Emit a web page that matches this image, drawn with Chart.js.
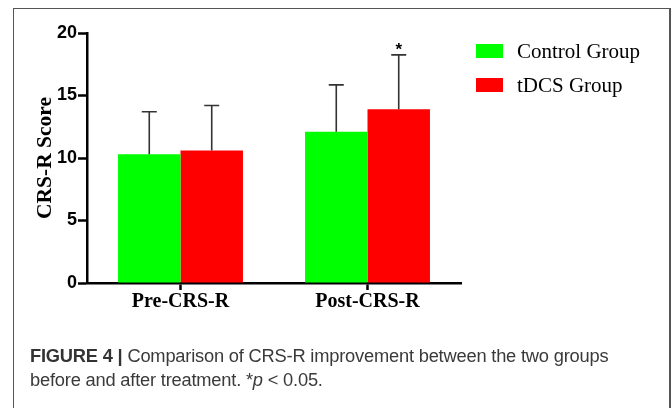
<!DOCTYPE html>
<html>
<head>
<meta charset="utf-8">
<script src="https://cdn.jsdelivr.net/npm/chart.js@4/dist/chart.umd.min.js"></script>
<style>
  html, body { margin: 0; padding: 0; background: #fff; }
  #wrap { position: relative; width: 672px; height: 408px; overflow: hidden; }
  #frame { position: absolute; left: 13px; top: 8px; width: 658px; height: 420px;
           border: 1.5px solid #555; border-right-width: 2px; box-sizing: border-box; }
  canvas { position: absolute; left: 0; top: 0; }
  #caption { position: absolute; left: 30px; top: 344px; width: 630px;
             font-family: "Liberation Sans", Arial, sans-serif; font-size: 18.3px;
             line-height: 24px; color: #3a3a3a; letter-spacing: -0.2px; }
  #caption b { color: #333; }
</style>
</head>
<body>
<div id="wrap">
  <div id="frame"></div>
  <canvas id="scoreChart" width="672" height="408"></canvas>
  <div id="caption"><b>FIGURE 4 |</b> Comparison of CRS-R improvement between the two groups<br>before and after treatment. *<i>p</i> &lt; 0.05.</div>
</div>
<script>
const categories = ['Pre-CRS-R', 'Post-CRS-R'];
const controlMeans = [10.3, 12.1];
const controlSD = [3.4, 3.75];
const tdcsMeans = [10.6, 13.9];
const tdcsSD = [3.6, 4.35];
const yTicks = [0, 5, 10, 15, 20];
const significance = ['', '*']; // marks over the tDCS bars

// error bars (upper only), asterisks and legend on the right
const extras = {
  id: 'extras',
  afterDatasetsDraw(chart) {
    const ctx = chart.ctx;
    const y = chart.scales.y;
    ctx.save();
    chart.data.datasets.forEach((ds, di) => {
      const meta = chart.getDatasetMeta(di);
      meta.data.forEach((bar, i) => {
        const top = y.getPixelForValue(ds.data[i] + ds.sd[i]);
        ctx.strokeStyle = '#333';
        ctx.lineWidth = 1.6;
        ctx.beginPath();
        ctx.moveTo(bar.x, bar.y);
        ctx.lineTo(bar.x, top);
        ctx.moveTo(bar.x - 7.5, top);
        ctx.lineTo(bar.x + 7.5, top);
        ctx.stroke();
        if (ds.marks && ds.marks[i]) {
          ctx.fillStyle = '#000';
          ctx.font = 'bold 17px "Liberation Sans", Arial, sans-serif';
          ctx.textAlign = 'center';
          ctx.textBaseline = 'alphabetic';
          ctx.fillText(ds.marks[i], bar.x, top);
        }
      });
    });
    // legend
    chart.data.datasets.forEach((ds, di) => {
      const cy = 51 + di * 34;
      ctx.fillStyle = ds.backgroundColor;
      ctx.fillRect(476, cy - 7, 27, 14);
      ctx.fillStyle = '#000';
      ctx.font = '21px "Liberation Serif", "Times New Roman", serif';
      ctx.textAlign = 'left';
      ctx.textBaseline = 'middle';
      ctx.fillText(ds.label, 517, cy + 1);
    });
    ctx.restore();
  }
};

new Chart(document.getElementById('scoreChart'), {
  type: 'bar',
  data: {
    labels: categories,
    datasets: [
      { label: 'Control Group', data: controlMeans, sd: controlSD, backgroundColor: '#00ff00',
        barPercentage: 1, categoryPercentage: 0.668 },
      { label: 'tDCS Group', data: tdcsMeans, sd: tdcsSD, marks: significance, backgroundColor: '#ff0000',
        barPercentage: 1, categoryPercentage: 0.668 }
    ]
  },
  options: {
    responsive: false,
    animation: false,
    layout: { padding: { left: 0, top: 33, right: 211, bottom: 0 } },
    plugins: { legend: { display: false }, tooltip: { enabled: false } },
    scales: {
      x: {
        afterFit(scale) { scale.height = 125; },
        grid: { display: true, drawOnChartArea: false, offset: false, tickLength: 7, tickColor: '#000', tickWidth: 2.5 },
        border: { display: true, color: '#000', width: 2.5 },
        ticks: { color: '#000', padding: 0,
                 font: { family: '"Liberation Serif", "Times New Roman", serif', size: 20, weight: 'bold' } }
      },
      y: {
        min: 0, max: 20,
        afterFit(scale) { scale.width = 87; },
        afterBuildTicks(scale) { scale.ticks = yTicks.map(v => ({ value: v })); },
        grid: { display: true, drawOnChartArea: false, tickLength: 9, tickColor: '#000', tickWidth: 2.5 },
        border: { display: true, color: '#000', width: 2.5 },
        ticks: { color: '#000', padding: 1,
                 font: { family: '"Liberation Sans", Arial, sans-serif', size: 18, weight: 'bold' } },
        title: { display: true, text: 'CRS-R Score', color: '#000', padding: { top: 33, bottom: 0 },
                 font: { family: '"Liberation Serif", "Times New Roman", serif', size: 21.5, weight: 'bold' } }
      }
    }
  },
  plugins: [extras]
});
</script>
</body>
</html>
